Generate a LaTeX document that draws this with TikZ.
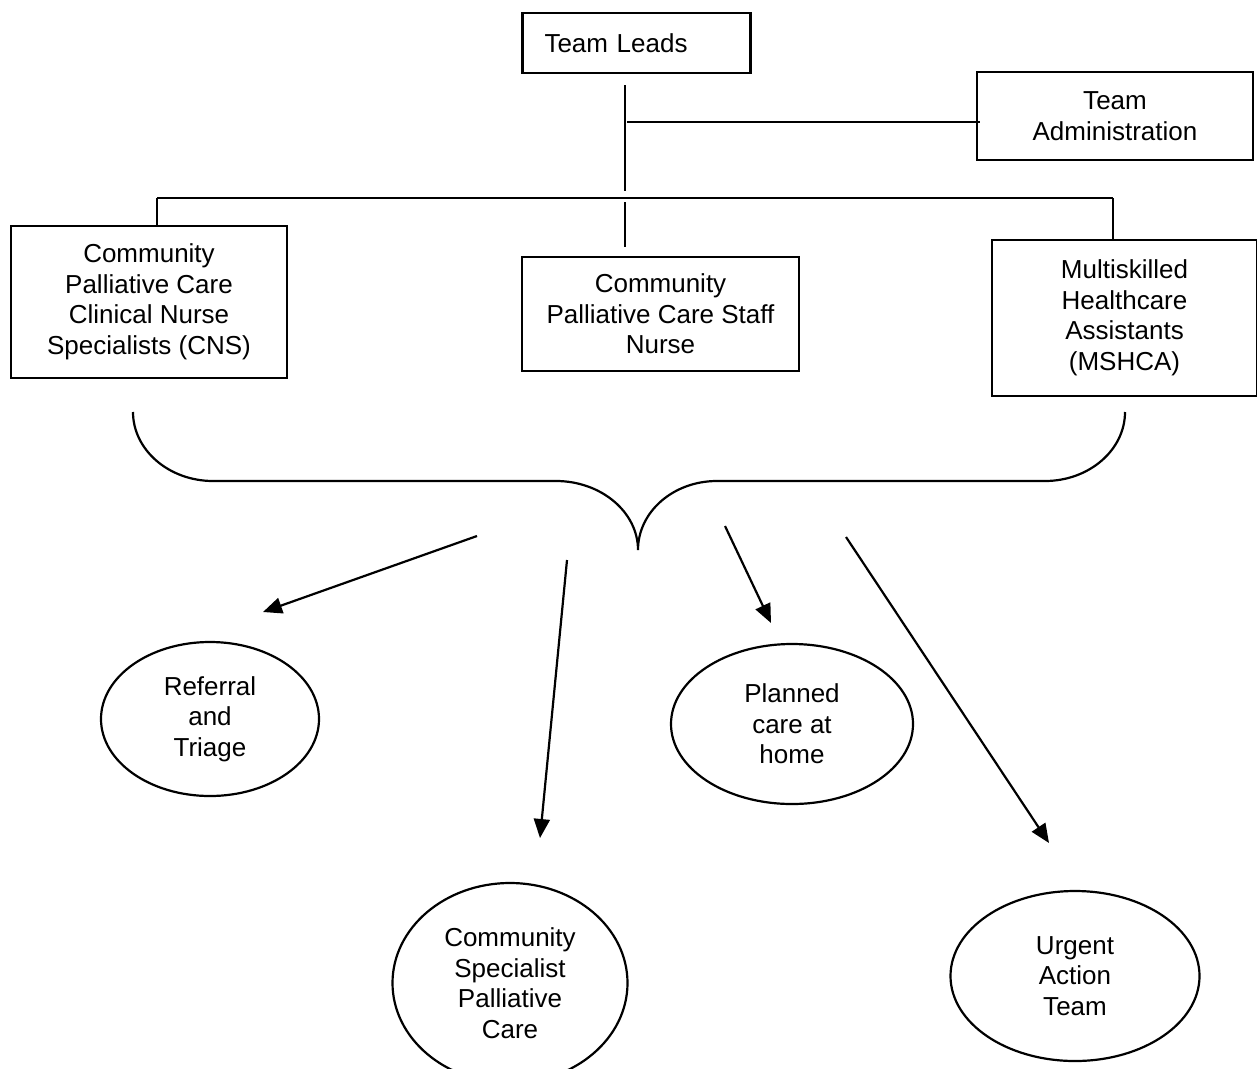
\documentclass[tikz,border=0pt]{standalone}
\usepackage{fontspec}
\setmainfont{Liberation Sans}
\usetikzlibrary{shapes.geometric,arrows.meta}
\begin{document}
\begin{tikzpicture}[x=1pt,y=-1pt,
  every node/.style={font=\fontsize{26}{30.5}\selectfont},
  box/.style={draw, line width=2.2pt, align=center, inner sep=0pt},
  oval/.style={draw, ellipse, line width=2.2pt, align=center, inner sep=0pt},
  conn/.style={line width=2.2pt},
  arr/.style={line width=2.2pt, -{Triangle[length=19pt,width=16pt]}}]
\useasboundingbox (0,0) rectangle (1257,1068);
% boxes
\node[box, minimum width=228, minimum height=60, text width=184, align=left] (tl) at (636.5,43) {Team Leads};
\node[box, minimum width=276, minimum height=88] (ta) at (1115,116) {Team\\Administration};
\node[box, minimum width=276, minimum height=152] (cns) at (149,302) {Community\\Palliative Care\\Clinical Nurse\\Specialists (CNS)};
\node[box, minimum width=277, minimum height=114] (sn) at (660.5,314) {Community\\Palliative Care Staff\\Nurse};
\node[box, minimum width=265, minimum height=156] (ms) at (1124.5,318) {Multiskilled\\Healthcare\\Assistants\\(MSHCA)};
% ellipses
\node[oval, minimum width=218, minimum height=154] (rt) at (210,719) {Referral\\and\\Triage};
\node[oval, minimum width=242, minimum height=160] (pc) at (792,724) {Planned\\care at\\home};
\node[oval, minimum width=235, minimum height=200] (cs) at (510,983) {Community\\Specialist\\Palliative\\Care};
\node[oval, minimum width=249, minimum height=170] (ua) at (1075,976) {Urgent\\Action\\Team};
% org lines
\coordinate (v1a) at (625,85);
\coordinate (v1b) at (625,191);
\coordinate (h1a) at (627,122);
\coordinate (h1b) at (980,122);
\coordinate (busl) at (157,198);
\coordinate (busr) at (1113,198);
\coordinate (dl) at (157,227);
\coordinate (dr) at (1113,240);
\coordinate (dma) at (625,202);
\coordinate (dmb) at (625,247);
\draw[conn] (v1a) -- (v1b);
\draw[conn] (h1a) -- (h1b);
\draw[conn] (busl) -- (busr);
\draw[conn] (busl) -- (dl);
\draw[conn] (busr) -- (dr);
\draw[conn] (dma) -- (dmb);
% brace
\draw[conn] (133,412) .. controls (133,450) and (169,481) .. (213,481)
  -- (556,481) .. controls (601,481) and (638,512) .. (638,550)
  .. controls (638,512) and (673,481) .. (717,481)
  -- (1045,481) .. controls (1089,481) and (1125,450) .. (1125,412);
% arrows
\coordinate (a1s) at (477,536); \coordinate (a1e) at (263,612);
\coordinate (a2s) at (567,560); \coordinate (a2e) at (540,838);
\coordinate (a3s) at (725,526); \coordinate (a3e) at (771,623);
\coordinate (a4s) at (846,537); \coordinate (a4e) at (1049,843);
\draw[arr] (a1s) -- (a1e);
\draw[arr] (a2s) -- (a2e);
\draw[arr] (a3s) -- (a3e);
\draw[arr] (a4s) -- (a4e);
\end{tikzpicture}
\end{document}
